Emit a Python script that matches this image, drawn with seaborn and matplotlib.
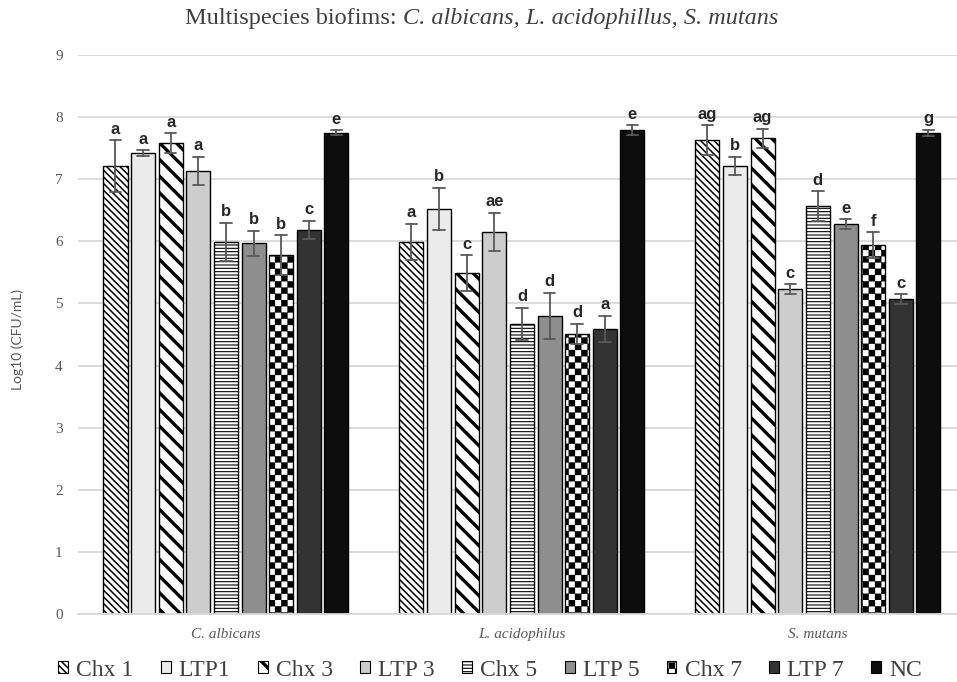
import warnings
import numpy as np
import pandas as pd
import seaborn as sns
import matplotlib.pyplot as plt
import matplotlib.hatch as mhatch
from matplotlib.path import Path
from matplotlib.patches import Patch

species = ["C. albicans", "L. acidophilus", "S. mutans"]
treatments = ["Chx 1", "LTP1", "Chx 3", "LTP 3", "Chx 5", "LTP 5", "Chx 7", "LTP 7", "NC"]

# mean log10 CFU/mL and SD
albicans_mean = [7.21, 7.42, 7.58, 7.13, 5.99, 5.97, 5.78, 6.18, 7.75]
albicans_sd = [0.42, 0.05, 0.16, 0.23, 0.31, 0.20, 0.32, 0.15, 0.04]
acido_mean = [5.99, 6.52, 5.49, 6.15, 4.67, 4.80, 4.51, 4.59, 7.79]
acido_sd = [0.29, 0.34, 0.29, 0.31, 0.26, 0.37, 0.16, 0.21, 0.08]
mutans_mean = [7.63, 7.21, 7.66, 5.23, 6.57, 6.28, 5.94, 5.07, 7.75]
mutans_sd = [0.24, 0.15, 0.15, 0.08, 0.24, 0.08, 0.21, 0.08, 0.05]

albicans_letters = ["a", "a", "a", "a", "b", "b", "b", "c", "e"]
acido_letters = ["a", "b", "c", "ae", "d", "d", "d", "a", "e"]
mutans_letters = ["ag", "b", "ag", "c", "d", "e", "f", "c", "g"]

colors = ["white", "#ebebeb", "white", "#cdcdcd", "white", "#8e8e8e", "white", "#333333", "#0d0d0d"]
hatches = ["\\\\\\\\\\", None, "\\\\", None, "-----", None, "#", None, None]
hatch_lw = [1.1, 1.0, 2.4, 1.0, 0.8, 1.0, 0.2, 1.0, 1.0]


class CheckerHatch(mhatch.HatchPatternBase):
    """checkerboard hatch, triggered by '#'"""
    cells = 16

    def __init__(self, hatch, density):
        self.num_vertices = 5 * self.cells * self.cells // 2 if "#" in hatch else 0

    def set_vertices_and_codes(self, vertices, codes):
        n = self.cells
        squares = []
        for i in range(n):
            for j in range(n):
                if (i + j) % 2 == 0:
                    x0, y0, x1, y1 = i / n, j / n, (i + 1) / n, (j + 1) / n
                    squares.append([(x0, y0), (x1, y0), (x1, y1), (x0, y1), (x0, y0)])
        vertices[:] = np.array(squares).reshape(-1, 2)
        codes[:] = np.tile([Path.MOVETO, Path.LINETO, Path.LINETO, Path.LINETO, Path.CLOSEPOLY],
                           len(squares))


mhatch._hatch_types.append(CheckerHatch)
warnings.filterwarnings("ignore")


def set_hatch(patch, k):
    if hatches[k]:
        patch.set_hatch(hatches[k])
        if hasattr(patch, "set_hatch_linewidth"):
            patch.set_hatch_linewidth(hatch_lw[k])


means = [albicans_mean, acido_mean, mutans_mean]
sds = [albicans_sd, acido_sd, mutans_sd]
letters = [albicans_letters, acido_letters, mutans_letters]

# two points per bar (mean - sd, mean + sd): the mean gives the bar, min/max the error bar
rows = []
for sp, m_list, s_list in zip(species, means, sds):
    for t, m, s in zip(treatments, m_list, s_list):
        rows.append({"species": sp, "treatment": t, "log_cfu": m - s})
        rows.append({"species": sp, "treatment": t, "log_cfu": m + s})
df = pd.DataFrame(rows)

sns.set_theme(style="white")
plt.rcParams["font.serif"] = ["Liberation Serif", "DejaVu Serif"]
plt.rcParams["hatch.linewidth"] = 1.0

fig = plt.figure(figsize=(9.57, 6.82), dpi=100)
ax = fig.add_axes([78 / 957, 68 / 682, (957 - 78) / 957, (614 - 55) / 682])

width, n = 0.84, len(treatments)
sns.barplot(data=df, x="species", y="log_cfu", hue="treatment", order=species,
            hue_order=treatments, palette=dict(zip(treatments, colors)), saturation=1,
            width=width, gap=0.13, errorbar=lambda v: (v.min(), v.max()), capsize=0.35,
            err_kws={"color": "#595959", "linewidth": 1.3},
            edgecolor="black", linewidth=1.0, legend=False, ax=ax)

slot = width / n
for p in ax.patches:
    xc = p.get_x() + p.get_width() / 2
    g = int(round(xc))
    k = int(round((xc - g) / slot + (n - 1) / 2))
    set_hatch(p, k)
    top = means[g][k] + sds[g][k]
    ax.annotate(letters[g][k], xy=(xc, top), xytext=(0, 2.5), textcoords="offset points",
                ha="center", va="bottom", fontsize=12, fontweight="bold",
                family="Liberation Sans", color="#262626")

ax.set_ylim(0, 9)
ax.set_xlim(-0.5, 2.47)
ax.set_yticks(range(0, 10))
ax.set_axisbelow(True)
ax.yaxis.grid(True, color="#d9d9d9", linewidth=1.3)
ax.xaxis.grid(False)
for s in ["left", "right", "top"]:
    ax.spines[s].set_visible(False)
ax.spines["bottom"].set_color("#d9d9d9")
ax.spines["bottom"].set_linewidth(1.3)
ax.set_xlabel("")
ax.set_ylabel("")

ax.set_xticks([-0.5, 0.5, 1.5], minor=True)
ax.tick_params(axis="x", which="major", length=0, pad=10)
ax.tick_params(axis="x", which="minor", length=6, width=1, color="#d9d9d9", direction="out")
ax.tick_params(axis="y", length=0, pad=11)
for lab in ax.get_xticklabels():
    lab.set_fontfamily("serif")
    lab.set_fontstyle("italic")
    lab.set_fontsize(11)
    lab.set_color("#595959")
for lab in ax.get_yticklabels():
    lab.set_fontfamily("serif")
    lab.set_fontsize(11)
    lab.set_color("#595959")

fig.text(18 / 957, 1 - 340 / 682, "Log10 (CFU/mL)", rotation=90, ha="center", va="center",
         fontsize=10, family="Lato", color="#595959")

t1 = fig.text(185 / 957, 1 - 29 / 682, "Multispecies biofims:", fontsize=17.5, family="serif",
              va="bottom", ha="left", color="#404040")
ax.annotate("C. albicans, L. acidophillus, S. mutans", xy=(1, 0), xycoords=t1,
            xytext=(4.5, 0), textcoords="offset points", va="bottom", ha="left",
            fontsize=17.5, family="serif", style="italic", color="#404040",
            annotation_clip=False)

handles = []
for k, t in enumerate(treatments):
    h = Patch(facecolor=colors[k], edgecolor="black", linewidth=0.8)
    set_hatch(h, k)
    handles.append(h)
leg = fig.legend(handles, treatments, loc="center", bbox_to_anchor=(490 / 957, 1 - 670 / 682),
                 ncol=n, frameon=False, prop={"family": "serif", "size": 17},
                 labelcolor="#404040", handlelength=0.42, handleheight=0.42,
                 handletextpad=0.35, columnspacing=1.15, borderpad=0)
for k, p in enumerate(leg.get_patches()):
    set_hatch(p, k)

fig.savefig("out.png", dpi=100)
plt.close(fig)
